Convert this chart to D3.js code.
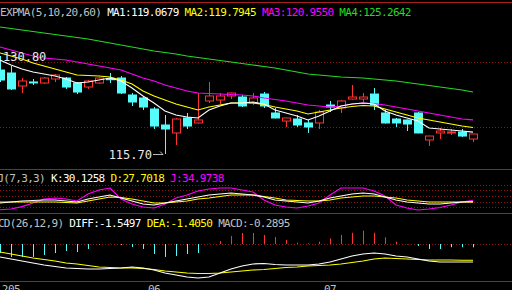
<!DOCTYPE html>
<html>
<head>
<meta charset="utf-8">
<script src="https://cdn.jsdelivr.net/npm/d3@7"></script>
<style>
html, body { margin: 0; padding: 0; background: #000; }
svg { display: block; }
text { font-family: "DejaVu Sans Mono", monospace; white-space: pre; }
</style>
</head>
<body>
<div id="chart-area"></div>
<script>
// daily candles (index 0 = first visible bar)
var opens  = [128.64,128.18,126.18,126.80,126.64,127.26,127.41,126.64,126.02,126.64,127.30,127.41,124.79,124.33,122.63,120.17,118.94,121.25,120.48,123.87,124.02,124.64,124.48,123.56,124.94,122.02,120.78,121.09,120.48,120.48,123.25,122.79,124.17,124.17,124.94,122.02,121.09,120.94,122.02,117.86,118.94,118.94,119.09,118.01];
var highs  = [130.80,129.26,127.41,127.26,127.56,128.03,127.56,126.79,127.10,127.56,128.18,127.72,125.10,124.48,122.94,121.71,121.25,122.02,125.10,126.79,125.10,125.18,124.79,125.10,125.25,122.79,121.30,121.71,120.94,122.48,123.87,124.02,126.33,125.10,125.87,122.48,121.25,121.00,122.17,118.52,119.71,119.55,119.55,118.82];
var lows   = [126.79,125.56,125.10,126.33,126.49,126.79,125.72,124.94,125.72,126.49,126.64,124.94,123.10,122.48,119.55,115.70,117.09,119.55,120.40,123.56,123.40,124.17,122.94,123.25,122.79,121.20,119.86,119.86,118.94,119.55,122.17,122.02,124.10,123.71,122.48,120.40,119.86,119.24,118.90,116.93,118.01,118.63,118.32,117.55];
var closes = [127.10,125.72,126.95,126.72,127.41,127.87,126.02,125.25,126.95,127.41,127.22,125.10,123.71,122.94,120.01,119.55,121.09,120.01,120.94,124.64,124.64,125.10,123.10,124.33,123.10,121.25,121.25,120.17,119.86,122.17,122.94,123.87,124.48,124.48,123.25,120.48,120.48,120.32,118.94,118.47,119.24,119.09,118.47,118.78];

// EXPMA(5,10,20,60)
var ma1 = [130.18,129.41,128.80,128.33,128.03,127.72,127.26,126.64,126.79,127.10,127.41,126.95,125.87,124.64,123.56,122.33,121.71,121.40,121.25,122.48,123.10,123.56,123.56,123.71,123.40,122.48,122.02,121.56,120.94,121.56,122.33,123.10,123.40,123.56,123.40,122.33,121.71,121.25,120.78,119.71,119.55,119.40,119.24,119.07];
var ma2 = [131.26,130.80,130.34,129.72,129.26,128.80,128.33,127.87,127.80,127.72,127.56,127.10,126.49,125.41,124.64,124.02,123.40,122.94,122.48,122.94,123.25,123.56,123.56,123.56,123.33,122.94,122.63,122.33,121.86,122.17,122.48,122.79,123.02,123.17,123.10,122.63,122.17,121.71,121.25,120.94,120.63,120.32,120.01,119.79];
var ma3 = [132.19,131.72,131.26,130.80,130.49,130.34,130.18,129.88,129.57,129.26,128.95,128.64,128.03,127.41,126.95,126.33,125.87,125.41,125.10,125.02,124.94,124.87,124.79,124.64,124.33,124.10,123.87,123.56,123.25,123.10,122.94,123.10,123.40,123.56,123.48,123.25,122.94,122.63,122.33,122.02,121.71,121.40,121.09,120.96];
var ma4 = [135.27,135.04,134.81,134.57,134.34,134.11,133.88,133.65,133.42,133.11,132.80,132.50,132.19,131.88,131.57,131.34,131.11,130.80,130.57,130.34,130.11,129.88,129.64,129.41,129.18,128.95,128.64,128.33,128.03,127.87,127.72,127.56,127.49,127.41,127.26,127.10,126.95,126.72,126.49,126.25,126.02,125.79,125.56,125.26];
var maLabels = ["MA1:119.0679", "MA2:119.7945", "MA3:120.9550", "MA4:125.2642"];

// KDJ(7,3,3)
var kLine = [25.0,28.6,32.1,33.9,35.7,35.7,32.1,28.6,39.3,46.4,53.6,42.8,32.1,21.4,17.9,25.0,32.1,39.3,46.4,53.6,57.1,60.7,57.1,53.6,46.4,35.7,32.1,28.6,25.0,32.1,42.8,50.0,57.1,60.7,57.1,46.4,35.7,28.6,25.0,21.4,21.4,25.0,28.6,30.13];
var dLine = [28.6,28.6,28.6,28.6,28.6,28.6,26.8,25.0,32.1,39.3,46.4,44.6,39.3,32.1,25.0,25.0,28.6,32.1,39.3,42.8,48.2,53.6,53.6,53.6,48.2,42.8,35.7,33.9,32.1,32.1,35.7,42.8,46.4,50.0,50.0,46.4,42.8,35.7,32.1,28.6,28.6,28.6,28.6,27.70];
var jLine = [1.0,3.6,12.0,25.0,39.3,42.8,39.3,32.1,57.1,71.4,78.5,39.3,21.4,10.7,7.1,21.4,42.8,53.6,67.8,75.0,78.5,78.5,71.4,64.3,35.7,17.9,10.7,7.1,14.3,25.0,53.6,78.5,78.5,78.5,67.8,50.0,17.9,7.1,0.0,3.6,8.9,17.9,28.6,34.97];
var kdjGrid = [10, 30, 50, 70, 90];
var kdjLabels = ["KDJ(7,3,3)", "K:30.1258", "D:27.7018", "J:34.9738"];

// MACD(26,12,9)
var diff = [-1.12,-1.29,-1.47,-1.64,-1.81,-1.94,-2.07,-2.11,-2.16,-2.16,-2.11,-2.07,-1.98,-2.07,-2.24,-2.50,-2.67,-2.84,-2.93,-2.84,-2.50,-2.16,-1.90,-1.72,-1.68,-1.77,-1.81,-1.81,-1.81,-1.72,-1.55,-1.29,-1.03,-0.86,-0.78,-0.86,-1.03,-1.12,-1.29,-1.47,-1.55,-1.55,-1.55,-1.5497];
var dea  = [-0.69,-0.86,-1.03,-1.21,-1.34,-1.47,-1.64,-1.72,-1.85,-1.98,-2.03,-2.07,-2.07,-2.11,-2.20,-2.33,-2.41,-2.50,-2.54,-2.54,-2.50,-2.41,-2.33,-2.24,-2.20,-2.11,-2.03,-1.98,-1.90,-1.85,-1.81,-1.72,-1.59,-1.47,-1.29,-1.21,-1.25,-1.29,-1.34,-1.38,-1.38,-1.38,-1.40,-1.405];
var macd = [-0.78,-1.12,-1.12,-1.12,-0.95,-0.78,-0.60,-0.69,-0.43,-0.05,0.03,-0.08,-0.26,-0.43,-0.86,-1.12,-1.03,-0.86,-0.78,0.03,0.26,0.69,0.95,0.95,0.78,0.60,0.34,0.11,0.06,0.20,0.49,0.78,0.97,1.15,0.97,0.58,0.20,-0.03,-0.17,-0.43,-0.43,-0.28,-0.28,-0.29];
var macdLabels = ["MACD(26,12,9)", "DIFF:-1.5497", "DEA:-1.4050", "MACD:-0.2895"];

// price grid and month labels
var priceGrid = [129.88, 119.86];
var monthIdx = [1, 14, 30];
var monthLabels = ["205", "06", "07"];

var width = 512, height = 290;
var red = "#ff3232", cyan = "#54fcfc", border = "#a41c1c", gridCol = "#8c1414";
var white = "#ffffff", yellow = "#ffff00", magenta = "#ff00ff", green = "#26d826", gray = "#c0c0c0";

var svg = d3.select("#chart-area").append("svg")
    .attr("width", width)
    .attr("height", height)
    .style("background", "#000");

var x = d3.scaleLinear().domain([0, 43]).range([0, 473]);
var y = d3.scaleLinear().domain([115.70, 130.80]).range([154, 56]);
var yK = d3.scaleLinear().domain([0, 100]).range([210, 182]);
var yM = d3.scaleLinear().domain([-3, 0]).range([278.8, 244]);

// panel borders
[2, 169, 213, 281].forEach((b) => {
    svg.append("line")
        .attr("x1", 0).attr("x2", width)
        .attr("y1", b + 0.5).attr("y2", b + 0.5)
        .attr("stroke", border).attr("stroke-width", 1.2)
})

function dotted(yv) {
    svg.append("line")
        .attr("x1", 0).attr("x2", width)
        .attr("y1", Math.round(yv) + 0.5).attr("y2", Math.round(yv) + 0.5)
        .attr("stroke", gridCol)
        .attr("stroke-dasharray", "1,2")
}
priceGrid.forEach((p) => dotted(y(p)));
kdjGrid.forEach((v) => dotted(yK(v)));
dotted(yM(0));

// candles
var candles = svg.append("g");
opens.forEach((o, i) => {
    var c = closes[i], up = c > o;
    var cx = Math.round(x(i)) + 0.5;
    var top = y(Math.max(o, c)), bot = y(Math.min(o, c));
    var col = up ? red : cyan;
    candles.append("line")
        .attr("x1", cx).attr("x2", cx)
        .attr("y1", y(highs[i])).attr("y2", y(lows[i]))
        .attr("stroke", col);
    candles.append("rect")
        .attr("x", cx - 4).attr("width", 8)
        .attr("y", top).attr("height", Math.max(bot - top, 1))
        .attr("fill", up ? "#000" : cyan)
        .attr("stroke", col);
})

var priceLine = d3.line()
    .x((d, i) => x(i))
    .y((d) => y(d));

[[ma4, green], [ma3, magenta], [ma2, yellow], [ma1, white]].forEach((s) => {
    svg.append("path")
        .attr("fill", "none")
        .attr("stroke", s[1])
        .attr("stroke-width", 1.1)
        .attr("d", priceLine(s[0]))
})

// high / low markers
var hi = d3.maxIndex(highs), lo = d3.minIndex(lows);
var loY = Math.round(y(lows[lo])) + 0.5;
svg.append("text")
    .attr("x", x(hi) + 3).attr("y", y(highs[hi]) + 5)
    .attr("fill", "#e8e8e8")
    .style("font-size", "12px")
    .text(highs[hi].toFixed(2));
svg.append("text")
    .attr("x", x(lo) - 13).attr("y", y(lows[lo]) + 5)
    .attr("text-anchor", "end")
    .attr("fill", "#e8e8e8")
    .style("font-size", "12px")
    .text(lows[lo].toFixed(2));
svg.append("path")
    .attr("fill", "none")
    .attr("stroke", "#b8b8b8")
    .attr("d", "M" + (x(lo) - 12) + "," + loY + "H" + (x(lo) - 2)
        + "M" + (x(lo) - 5) + "," + (loY - 3) + "L" + (x(lo) - 2) + "," + loY);

// KDJ
var kdjLine = d3.line().x((d, i) => x(i)).y((d) => yK(d));
[[jLine, magenta], [dLine, yellow], [kLine, white]].forEach((s) => {
    svg.append("path")
        .attr("fill", "none")
        .attr("stroke", s[1])
        .attr("stroke-width", 1.1)
        .attr("d", kdjLine(s[0]))
})

// MACD bars + lines
macd.forEach((m, i) => {
    var cx = Math.round(x(i)) + 0.5;
    svg.append("line")
        .attr("x1", cx).attr("x2", cx)
        .attr("y1", yM(0)).attr("y2", yM(m))
        .attr("stroke", m >= 0 ? red : cyan)
})
var macdLine = d3.line().x((d, i) => x(i)).y((d) => yM(d));
[[dea, yellow], [diff, white]].forEach((s) => {
    svg.append("path")
        .attr("fill", "none")
        .attr("stroke", s[1])
        .attr("stroke-width", 1.1)
        .attr("d", macdLine(s[0]))
})

// titles
function title(tx, ty, labels, colors) {
    var t = svg.append("text")
        .attr("x", tx).attr("y", ty)
        .style("font-size", "11px")
        .style("letter-spacing", "-0.67px");
    labels.forEach((l, k) => {
        t.append("tspan").attr("fill", colors[k]).text((k ? " " : "") + l);
    })
}
title(0, 16, ["EXPMA(5,10,20,60)"].concat(maLabels), [gray, white, yellow, magenta, green]);
title(-14.5, 182, kdjLabels, [gray, white, yellow, magenta]);
title(-14, 227, macdLabels, [gray, white, yellow, gray]);

// month axis labels
monthIdx.forEach((mi, k) => {
    svg.append("text")
        .attr("x", x(mi)).attr("y", 293)
        .attr("text-anchor", "middle")
        .attr("fill", gray)
        .style("font-size", "11px")
        .style("letter-spacing", "-0.5px")
        .text(monthLabels[k]);
})
</script>
</body>
</html>
